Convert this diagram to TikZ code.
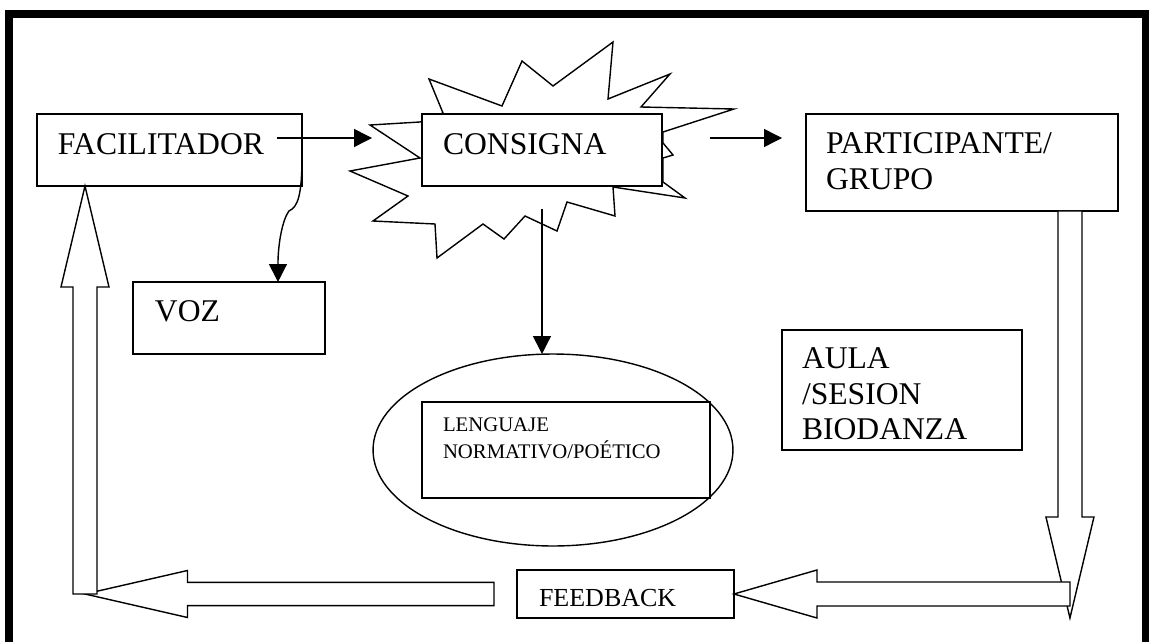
\documentclass[tikz,border=0pt]{standalone}
\usepackage{fontspec}
\setmainfont{Liberation Serif}
\usetikzlibrary{shapes.geometric,arrows.meta}

\begin{document}
\begin{tikzpicture}
	[x=0.02cm, y=-0.02cm, line width=0.8pt,
	 every node/.style={inner ysep=0, outer sep=0},
	 box/.style={draw, fill=white, anchor=north west, align=left, font=\fontsize{18}{20}\selectfont},
	 link/.style={-{Triangle[length=0.36cm,width=0.36cm]}},
	 hollow/.style={draw, fill=white, line join=miter}]
	\useasboundingbox (0,0) rectangle (1149,642);
	% frame
	\draw [line width=4.55pt] (9,650) -- (9,14) -- (1146,14) -- (1146,650);
	% burst behind CONSIGNA
	\draw [fill=white] (429,79) -- (502,106) -- (522,61) -- (553,86) -- (613,42) -- (608,99)
		-- (670,74) -- (641,107) -- (734,109) -- (663,132) -- (663,143) -- (673,155) -- (663,158)
		-- (663,182) -- (685,198) -- (613,187) -- (615,216) -- (567,202) -- (557,231) -- (525,216)
		-- (504,239) -- (483,224) -- (437,258) -- (435,224) -- (373,221) -- (408,196) -- (350,171)
		-- (420,158) -- (370,125) -- (420,122) -- (443,113) -- cycle;
	\node (facil) [box, inner xsep=0.42cm, text width=4.46cm, text height=0.82cm, text depth=0.62cm] at (37,114) {FACILITADOR};
	\node (consigna) [box, inner xsep=0.42cm, text width=3.96cm, text height=0.82cm, text depth=0.62cm] at (422,114) {CONSIGNA};
	\node (particip) [box, inner xsep=0.40cm, text width=5.44cm, text height=0.80cm, text depth=1.14cm] at (806,114) {PARTICIPANTE/\\GRUPO};
	\node (voz) [box, inner xsep=0.44cm, text width=2.96cm, text height=0.80cm, text depth=0.64cm] at (133,282) {VOZ};
	\node (aula) [box, inner xsep=0.40cm, text width=4.00cm, text height=0.78cm, text depth=1.62cm] at (782,330) {AULA\\/SESION\\BIODANZA};
	\node (lengoval) [draw, ellipse, inner sep=0, minimum width=7.2cm, minimum height=3.84cm] at (553,450) {};
	\node (lenguaje) [box, inner xsep=0.42cm, text width=4.92cm, text height=0.60cm, text depth=1.32cm,
		font=\fontsize{11.8}{14.8}\selectfont] at (422,402) {LENGUAJE\\NORMATIVO/POÉTICO};
	\node (feedback) [box, inner xsep=0.44cm, text width=3.46cm, text height=0.72cm, text depth=0.24cm,
		font=\fontsize{14.8}{17}\selectfont] at (517,570) {FEEDBACK};
	% thin arrows
	\draw [link] ([xshift=-0.5cm, yshift=0.24cm]facil.east) -- ([xshift=-1.0cm, yshift=0.24cm]consigna.west);
	\draw [link] ([xshift=0.96cm, yshift=0.24cm]consigna.east) -- ([xshift=-0.48cm, yshift=0.49cm]particip.west);
	\draw [link] ([yshift=-0.46cm]consigna.south) coordinate (cdown) -- (cdown |- lengoval.north);
	\draw [link] ([yshift=-0.14cm]facil.east) .. controls +(0,38) and +(9,-4) .. ++(-13,54)
		.. controls +(-6,8) and +(0,-40) .. ([xshift=0.98cm]voz.north);
	% hollow arrows of the loop
	\draw [hollow] ([xshift=1.92cm]particip.south) -- ++(0,306) -- ++(-12,0) -- ++(24,101)
		-- ++(24,-101) -- ++(-12,0) -- ++(0,-306) -- cycle;
	\draw [hollow] (feedback.east) -- ++(83,-24) -- ++(0,12) -- ++(253,0) -- ++(0,24)
		-- ++(-253,0) -- ++(0,12) -- cycle;
	\draw [hollow] ([xshift=-0.46cm]feedback.west) ++(0,-11.7) -- ++(-306.5,0) -- ++(0,-11.8)
		-- ++(-102.5,23.5) -- ++(102.5,23.5) -- ++(0,-11.8) -- ++(306.5,0) -- cycle;
	\draw [hollow] ([xshift=-1.69cm]facil.south) -- ++(24,101) -- ++(-12,0) -- ++(0,307)
		-- ++(-24,0) -- ++(0,-307) -- ++(-12,0) -- cycle;
\end{tikzpicture}
\end{document}
